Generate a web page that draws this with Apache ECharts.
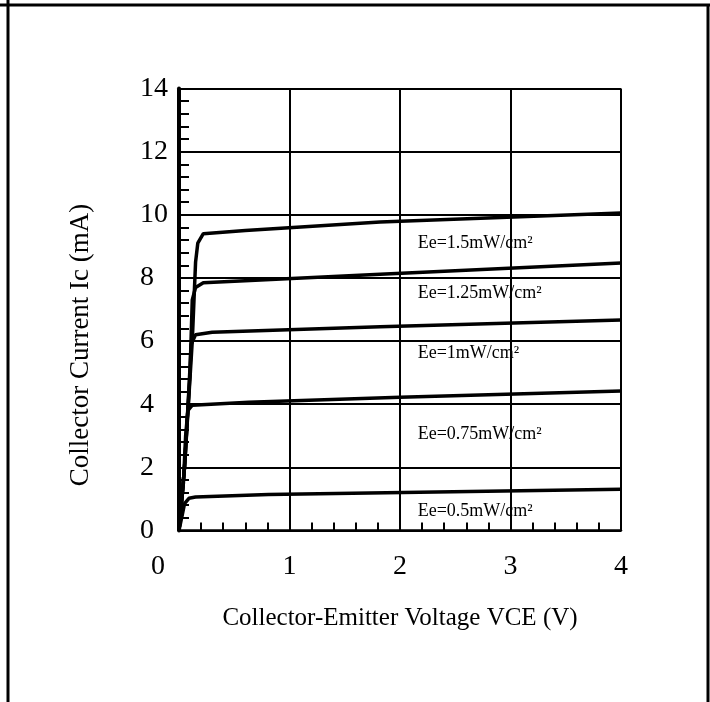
<!DOCTYPE html>
<html>
<head>
<meta charset="utf-8">
<script src="https://cdn.jsdelivr.net/npm/echarts@6/dist/echarts.min.js"></script>
<style>
html,body{margin:0;padding:0;background:#fff;}
#chart{width:710px;height:702px;}
</style>
</head>
<body>
<div id="chart"></div>
<script>
// ---- data ----
const curveNames = ['Ee=1.5mW/cm²', 'Ee=1.25mW/cm²', 'Ee=1mW/cm²', 'Ee=0.75mW/cm²', 'Ee=0.5mW/cm²'];
const vce1 = [0, 0.05, 0.12, 0.15, 0.17, 0.22, 0.6, 1.82, 4];
const ic1  = [0, 2, 6, 8.5, 9.1, 9.4, 9.5, 9.77, 10.06];
const vce2 = [0, 0.05, 0.1, 0.12, 0.15, 0.22, 1.82, 4];
const ic2  = [0, 2, 5, 7.3, 7.7, 7.85, 8.12, 8.47];
const vce3 = [0, 0.05, 0.09, 0.11, 0.15, 0.3, 1.82, 4];
const ic3  = [0, 2, 4.5, 5.9, 6.2, 6.28, 6.45, 6.67];
const vce4 = [0, 0.04, 0.06, 0.08, 0.12, 0.63, 2, 4];
const ic4  = [0, 1.5, 3.0, 3.8, 3.97, 4.06, 4.22, 4.42];
const vce5 = [0, 0.03, 0.05, 0.09, 0.15, 0.81, 4];
const ic5  = [0, 0.5, 0.85, 1.02, 1.06, 1.14, 1.31];
const xTickLabels = ['0', '1', '2', '3', '4'];
const yTickLabels = ['0', '2', '4', '6', '8', '10', '12', '14'];
const xTitle = 'Collector-Emitter Voltage VCE (V)';
const yTitle = 'Collector Current Ic (mA)';

// ---- layout config (annotation anchors in data units) ----
const labelAnchors = [[2.16, 9.1], [2.16, 7.52], [2.16, 5.62], [2.16, 3.06], [2.16, 0.62]];

const vces = [vce1, vce2, vce3, vce4, vce5];
const ics = [ic1, ic2, ic3, ic4, ic5];
const FONT = '"Liberation Serif", "DejaVu Serif", serif';

const series = vces.map((vs, i) => ({
  type: 'line',
  name: curveNames[i],
  data: vs.map((v, k) => [v, ics[i][k]]),
  showSymbol: false,
  smooth: false,
  lineStyle: { color: '#000', width: 3.5 },
  itemStyle: { color: '#000' },
  z: 5,
  silent: true,
  markPoint: {
    symbol: 'rect',
    symbolSize: 0,
    silent: true,
    data: [{
      coord: labelAnchors[i],
      label: {
        show: true,
        position: 'right',
        distance: 0,
        formatter: curveNames[i],
        color: '#000',
        fontFamily: FONT,
        fontSize: 18
      }
    }]
  }
}));

const chart = echarts.init(document.getElementById('chart'), null, { renderer: 'canvas' });
chart.setOption({
  backgroundColor: '#fff',
  animation: false,
  grid: { left: 179, right: 89, top: 88.5, bottom: 171.5 },
  xAxis: {
    type: 'value',
    min: 0, max: 4, interval: 1,
    name: xTitle,
    nameLocation: 'middle',
    nameGap: 75,
    nameTextStyle: { color: '#000', fontFamily: FONT, fontSize: 25 },
    axisLine: { show: true, lineStyle: { color: '#000', width: 2.5 } },
    axisTick: { show: false, inside: true },
    minorTick: { show: true, splitNumber: 5, length: 8, lineStyle: { color: '#000', width: 2 } },
    axisLabel: {
      margin: 22,
      color: '#000',
      fontFamily: FONT,
      fontSize: 28,
      formatter: function (v) {
        const s = xTickLabels[Math.round(v)];
        return v === 0 ? '{z|' + s + '}' : s;
      },
      rich: { z: { fontFamily: FONT, fontSize: 28, color: '#000', padding: [0, 42, 0, 0] } }
    },
    splitLine: { show: true, lineStyle: { color: '#000', width: 2 } }
  },
  yAxis: {
    type: 'value',
    min: 0, max: 14, interval: 2,
    axisLine: { show: true, lineStyle: { color: '#000', width: 4 } },
    axisTick: { show: false, inside: true },
    minorTick: { show: true, splitNumber: 5, length: 10, lineStyle: { color: '#000', width: 2 } },
    axisLabel: {
      margin: 39,
      align: 'left',
      color: '#000',
      fontFamily: FONT,
      fontSize: 28,
      formatter: function (v) { return yTickLabels[Math.round(v / 2)]; }
    },
    splitLine: { show: true, lineStyle: { color: '#000', width: 2 } }
  },
  series: series,
  graphic: [
    { type: 'text', x: 81, y: 345, rotation: Math.PI / 2,
      style: { text: yTitle, fill: '#000', font: '27px ' + FONT, textAlign: 'center', textVerticalAlign: 'middle' } },
    { type: 'line', shape: { x1: 0, y1: 5, x2: 710, y2: 5 }, style: { stroke: '#000', lineWidth: 3 } },
    { type: 'line', shape: { x1: 8, y1: 0, x2: 8, y2: 702 }, style: { stroke: '#000', lineWidth: 3 } },
    { type: 'line', shape: { x1: 708, y1: 5, x2: 708, y2: 702 }, style: { stroke: '#000', lineWidth: 3 } }
  ]
});
</script>
</body>
</html>
